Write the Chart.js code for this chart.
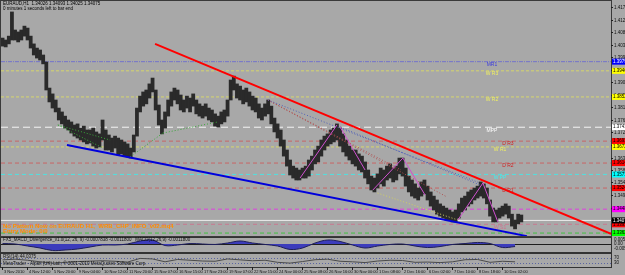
<!DOCTYPE html>
<html>
<head>
<meta charset="utf-8">
<script src="https://cdn.jsdelivr.net/npm/chart.js@4.4.0/dist/chart.umd.min.js"></script>
<style>
html, body { margin: 0; padding: 0; background: #a8a8a8; }
#wrap { position: relative; width: 625px; height: 275px; overflow: hidden; background: #a8a8a8; }
canvas { position: absolute; left: 0; }
</style>
</head>
<body>
<div id="wrap">
  <canvas id="mainChart" width="625" height="237" style="top:0px"></canvas>
  <canvas id="macdChart" width="625" height="16" style="top:237px"></canvas>
  <canvas id="rsiChart" width="625" height="22" style="top:253px"></canvas>
</div>
<script>
// EURAUD H1, one slot = 4 hourly bars
var highs = [1.4064,1.4057,1.4071,1.4158,1.4093,1.4086,1.4093,1.4107,1.4100,1.4071,
  1.4043,1.4028,1.4021,1.4003,1.3978,1.3884,1.3863,1.3841,1.3812,1.3798,
  1.3783,1.3769,1.3762,1.3751,1.3755,1.3740,1.3747,1.3733,1.3733,1.3740,
  1.3726,1.3719,1.3769,1.3733,1.3715,1.3704,1.3711,1.3704,1.3697,1.3690,
  1.3683,1.3668,1.3715,1.3812,1.3855,1.3870,1.3877,1.3899,1.3920,1.3877,
  1.3823,1.3769,1.3798,1.3841,1.3870,1.3884,1.3877,1.3859,1.3841,1.3855,
  1.3848,1.3863,1.3841,1.3827,1.3819,1.3827,1.3812,1.3805,1.3791,1.3783,
  1.3798,1.3805,1.3841,1.3913,1.3927,1.3899,1.3891,1.3877,1.3884,1.3870,
  1.3855,1.3848,1.3827,1.3812,1.3827,1.3841,1.3819,1.3776,1.3755,1.3733,
  1.3697,1.3661,1.3625,1.3603,1.3596,1.3589,1.3596,1.3603,1.3625,1.3639,
  1.3661,1.3675,1.3697,1.3711,1.3719,1.3733,1.3740,1.3755,1.3740,1.3719,
  1.3697,1.3675,1.3661,1.3661,1.3647,1.3639,1.3618,1.3589,1.3567,1.3560,
  1.3575,1.3596,1.3589,1.3603,1.3611,1.3596,1.3603,1.3632,1.3632,1.3596,
  1.3567,1.3553,1.3539,1.3524,1.3546,1.3553,1.3531,1.3510,1.3495,1.3481,
  1.3467,1.3459,1.3452,1.3445,1.3438,1.3445,1.3467,1.3488,1.3495,1.3510,
  1.3517,1.3524,1.3531,1.3546,1.3539,1.3524,1.3481,1.3452,1.3445,1.3452,
  1.3459,1.3467,1.3459,1.3430,1.3409,1.3430,1.3427];
var lows = [1.4035,1.4032,1.4043,1.4057,1.4057,1.4050,1.4057,1.4071,1.4057,1.4028,
  1.4003,1.3992,1.3985,1.3971,1.3877,1.3834,1.3812,1.3798,1.3769,1.3755,
  1.3740,1.3733,1.3722,1.3711,1.3704,1.3697,1.3690,1.3683,1.3686,1.3675,
  1.3668,1.3672,1.3697,1.3661,1.3661,1.3654,1.3668,1.3643,1.3647,1.3639,
  1.3636,1.3632,1.3654,1.3711,1.3798,1.3819,1.3827,1.3848,1.3870,1.3805,
  1.3751,1.3719,1.3740,1.3783,1.3819,1.3841,1.3827,1.3805,1.3798,1.3812,
  1.3798,1.3819,1.3791,1.3783,1.3776,1.3783,1.3769,1.3762,1.3747,1.3744,
  1.3755,1.3762,1.3783,1.3841,1.3877,1.3848,1.3841,1.3827,1.3834,1.3819,
  1.3805,1.3798,1.3776,1.3769,1.3783,1.3791,1.3755,1.3726,1.3704,1.3675,
  1.3639,1.3603,1.3571,1.3560,1.3553,1.3553,1.3560,1.3560,1.3567,1.3589,
  1.3611,1.3618,1.3639,1.3661,1.3675,1.3683,1.3690,1.3697,1.3675,1.3654,
  1.3639,1.3625,1.3611,1.3603,1.3589,1.3582,1.3560,1.3539,1.3517,1.3510,
  1.3524,1.3539,1.3531,1.3553,1.3560,1.3546,1.3553,1.3575,1.3567,1.3531,
  1.3510,1.3495,1.3488,1.3481,1.3495,1.3503,1.3481,1.3459,1.3445,1.3430,
  1.3423,1.3416,1.3409,1.3409,1.3402,1.3402,1.3416,1.3438,1.3445,1.3459,
  1.3467,1.3481,1.3488,1.3495,1.3488,1.3467,1.3423,1.3402,1.3402,1.3416,
  1.3423,1.3430,1.3416,1.3387,1.3377,1.3395,1.3402];

var timeLabels = ['3 Nov 2010','4 Nov 12:00','5 Nov 20:00','9 Nov 04:00','10 Nov 12:00',
  '11 Nov 20:00','15 Nov 07:00','16 Nov 15:00','17 Nov 23:00','19 Nov 07:00','22 Nov 15:00',
  '24 Nov 00:00','25 Nov 08:00','26 Nov 16:00','30 Nov 00:00','1 Dec 08:00','2 Dec 16:00',
  '6 Dec 02:00','7 Dec 10:00','8 Dec 18:00','10 Dec 02:00'];

var priceTicks = [1.41740,1.41290,1.40840,1.40390,1.39940,1.39490,1.39040,1.38590,1.38140,
  1.37690,1.37240,1.36790,1.36340,1.35890,1.35440,1.34990,1.34540,1.34090];

var pivotNames  = ['MR1','W R3','W R2','MPP','D R3','W R1','D R2','W PP','D R1','D PP','W S1','D S1'];
var pivotLevels = [1.39790,1.39460,1.38520,1.37430,1.36930,1.36720,1.36140,1.35730,1.35240,1.34480,1.33935,1.33620];
var bidPrice = 1.34075;

// trend lines: [slot, price, slot, price]
var redTrend  = [48.8, 1.4043, 194.7, 1.3359];
var blueTrend = [20.6, 1.3679, 167.8, 1.3351];
var greenPattern = [[17.7,1.3751,32.1,1.3668],[17.7,1.3751,34.4,1.3697],[40.8,1.3636,51.3,1.3722],[51.3,1.3722,68.9,1.3762]];
var magentaPattern = [[95.2,1.3560,107.0,1.3751],[108.0,1.3744,116.0,1.3589],[118.5,1.3517,128.1,1.3632],
  [128.1,1.3632,135.2,1.3499],[145.7,1.3409,153.7,1.3542],[153.7,1.3542,158.5,1.3402]];
var bluePattern = [[84.9,1.3841,152.8,1.3542],[108.0,1.3744,152.8,1.3535]];
var redPattern = [[84.9,1.3841,127.5,1.3589],[84.9,1.3841,142.2,1.3492]];
var yellowPattern = [[120.0,1.3506,145.7,1.3409]];

// MACD and RSI, one value every 4 slots
var macdValues = [0.0005,0,-0.0022,-0.0044,-0.0072,-0.0066,-0.0055,-0.0033,-0.0011,-0.0011,
  0,0.0033,0.0044,-0.0017,-0.0011,0.0005,0,-0.0005,0.0011,0.0033,
  0.0011,-0.0005,-0.0022,-0.006,-0.0044,0.0011,0.0044,0.0028,-0.0011,-0.0044,
  -0.0022,-0.0005,0,-0.0022,-0.0039,-0.0028,-0.0005,0.0005,0.0017,0.0005,-0.0039,-0.0028];
var macdTicks = [0.00501, 0, -0.00518];
var rsiValues = [55,60,52,40,30,35,42,45,48,44,38,66,62,40,58,52,46,44,62,55,48,52,36,30,
  42,56,60,44,40,34,46,52,50,36,38,34,40,56,58,36,44,40];
var rsiLevels = [70, 30];

var slotMin = -0.5, slotMax = 194.7, sampleStep = 4;

var pivotStyle = {
  'MR1':  {line:'#7474cc', dash:[4,1,1,1], box:'#0000ff', boxText:'#ffffff', text:'#3c3cdc', at:156.6},
  'W R3': {line:'#d6d66c', dash:[3,2], box:'#ffff00', boxText:'#000000', text:'#f0f060', at:156.6},
  'W R2': {line:'#d6d66c', dash:[3,2], box:'#ffff00', boxText:'#000000', text:'#f0f060', at:156.6},
  'MPP':  {line:'#f4f4f4', dash:[7,4], box:'#ffffff', boxText:'#000000', text:'#ffffff', at:156.6},
  'D R3': {line:'#c86464', dash:[4,3], box:'#ff0000', boxText:'#000000', text:'#d02020', at:161.7},
  'W R1': {line:'#d6d66c', dash:[3,2], box:'#ffff00', boxText:'#000000', text:'#f0f060', at:159.2},
  'D R2': {line:'#c86464', dash:[4,3], box:'#ff0000', boxText:'#000000', text:'#d02020', at:161.7},
  'W PP': {line:'#50e0e0', dash:[4,3], box:'#00ffff', boxText:'#000000', text:'#40f0f0', at:159.2},
  'D R1': {line:'#c86464', dash:[4,3], box:'#ff0000', boxText:'#000000', text:'#d02020', at:161.7},
  'D PP': {line:'#e040e0', dash:[4,3], box:'#ff00ff', boxText:'#000000', text:null, at:0},
  'W S1': {line:'#c87890', dash:[4,3], box:'#ff0000', boxText:'#000000', text:'#d07090', at:159.2},
  'D S1': {line:'#40c040', dash:[4,3], box:'#00ff00', boxText:'#000000', text:null, at:0}
};

function segDataset(s, color, width, dash, order){
  return {
    type: 'line',
    data: [{x: s[0], y: s[1]}, {x: s[2], y: s[3]}],
    borderColor: color, borderWidth: width, borderDash: dash,
    pointRadius: 0, fill: false, order: order
  };
}

function sampled(vals){
  return vals.map(function(v, i){ return {x: i * sampleStep, y: v}; });
}

function slotAxis(){
  return {type: 'linear', min: slotMin, max: slotMax, offset: false, display: false};
}

// ---------- main price window ----------
var mainSets = [];
mainSets.push(segDataset(redTrend, '#ff0000', 2, [], 0));
mainSets.push(segDataset(blueTrend, '#0000dc', 2, [], 0));
greenPattern.forEach(function(s){ mainSets.push(segDataset(s, '#3aa83a', 1, [1,2], 0)); });
magentaPattern.forEach(function(s){ mainSets.push(segDataset(s, '#d050d0', 1, [], 0)); });
bluePattern.forEach(function(s){ mainSets.push(segDataset(s, '#5060b8', 1, [1,2], 0)); });
redPattern.forEach(function(s){ mainSets.push(segDataset(s, '#b05050', 1, [1,2], 0)); });
yellowPattern.forEach(function(s){ mainSets.push(segDataset(s, '#d0d060', 1, [1,2], 0)); });

mainSets.push({
  type: 'bar',
  data: highs.map(function(h, i){ return {x: i, y: [lows[i], h]}; }),
  backgroundColor: '#2a2a2a',
  barPercentage: 1, categoryPercentage: 1,
  order: 1
});

pivotNames.forEach(function(name, i){
  var st = pivotStyle[name];
  mainSets.push(segDataset([slotMin, pivotLevels[i], slotMax, pivotLevels[i]], st.line, 1, st.dash, 2));
});
mainSets.push(segDataset([slotMin, bidPrice, slotMax, bidPrice], '#ececec', 1, [], 2));

var mainText = {
  id: 'mainText',
  afterDraw: function(chart){
    var c = chart.ctx, a = chart.chartArea, y = chart.scales.y, x = chart.scales.x;
    c.save();
    // frame
    c.strokeStyle = '#3a3a3a'; c.lineWidth = 1;
    c.strokeRect(a.left - 0.5, 0.5, a.right - a.left + 1, a.bottom);
    c.textBaseline = 'middle';
    // pivot names
    c.font = '5px "Liberation Sans", Arial';
    c.textAlign = 'center';
    pivotNames.forEach(function(name, i){
      var st = pivotStyle[name];
      if (!st.text) return;
      c.fillStyle = st.text;
      c.fillText(name, x.getPixelForValue(st.at), y.getPixelForValue(pivotLevels[i]) + 3);
    });
    // price scale
    c.textAlign = 'left';
    c.font = '4.5px "Liberation Sans", Arial';
    priceTicks.forEach(function(v){
      var py = Math.round(y.getPixelForValue(v)) + 0.5;
      c.strokeStyle = '#202020';
      c.beginPath(); c.moveTo(a.right, py); c.lineTo(a.right + 2, py); c.stroke();
      c.fillStyle = '#101010';
      c.fillText(v.toFixed(5), a.right + 3, py);
    });
    // level boxes
    function box(v, bg, fg){
      var py = y.getPixelForValue(v);
      c.fillStyle = bg;
      c.fillRect(a.right + 1, py - 3, 14, 6);
      c.fillStyle = fg;
      c.fillText(v.toFixed(5), a.right + 2, py);
    }
    pivotNames.forEach(function(name, i){
      box(pivotLevels[i], pivotStyle[name].box, pivotStyle[name].boxText);
    });
    box(bidPrice, '#000000', '#ffffff');
    // header
    c.fillStyle = '#000000';
    c.font = '4.5px "Liberation Sans", Arial';
    c.fillText('EURAUD,H1  1.34026 1.34093 1.34025 1.34075', 3, 4);
    c.fillText('0 minutes 1 seconds left to bar end', 3, 8.5);
    // indicator message
    c.fillStyle = '#ff8c00';
    c.font = 'bold 6px "Liberation Sans", Arial';
    c.fillText('No Pattern Now on EURAUD H1,  WRB_CHP_INFO_v02.mq4', 3, 226.5);
    c.fillText('Entry Mode: 0/0', 3, 231.5);
    c.restore();
  }
};

new Chart(document.getElementById('mainChart'), {
  type: 'bar',
  data: {datasets: mainSets},
  options: {
    responsive: false, animation: false, devicePixelRatio: 1, events: [],
    layout: {padding: {left: 1, right: 14, top: 0, bottom: 1}},
    plugins: {legend: {display: false}, tooltip: {enabled: false}},
    scales: {x: slotAxis(), y: {min: 1.33514, max: 1.4201, display: false}}
  },
  plugins: [mainText]
});

// ---------- MACD window ----------
var macdText = {
  id: 'macdText',
  beforeDatasetsDraw: function(chart){
    var c = chart.ctx, a = chart.chartArea, y = chart.scales.y;
    var zy = Math.round(y.getPixelForValue(0)) + 0.5;
    c.save();
    c.strokeStyle = '#1e1e1e'; c.lineWidth = 1;
    c.beginPath(); c.moveTo(a.left, zy); c.lineTo(a.right, zy); c.stroke();
    c.restore();
  },
  afterDraw: function(chart){
    var c = chart.ctx, a = chart.chartArea, y = chart.scales.y;
    c.save();
    c.strokeStyle = '#333333'; c.lineWidth = 1;
    c.strokeRect(a.left - 0.5, 0.5, a.right - a.left + 1, 15);
    c.font = '4.5px "Liberation Sans", Arial';
    c.textBaseline = 'middle';
    c.fillStyle = '#101010';
    macdTicks.forEach(function(v){
      c.fillText(v === 0 ? '0.00' : v.toFixed(5), a.right + 3, y.getPixelForValue(v));
    });
    c.fillText('FX5_MACD_Divergence_v1.0(12, 26, 9) -0.0007838 -0.0011800   MACD(12,26,9) -0.0011800', 3, 3);
    c.restore();
  }
};

new Chart(document.getElementById('macdChart'), {
  type: 'line',
  data: {datasets: [{
    data: sampled(macdValues),
    borderColor: '#1e1e5a', borderWidth: 1,
    backgroundColor: '#3c3cbc', fill: 'origin',
    pointRadius: 0, tension: 0.35
  }]},
  options: {
    responsive: false, animation: false, devicePixelRatio: 1, events: [],
    layout: {padding: {left: 1, right: 14, top: 1, bottom: 1}},
    plugins: {legend: {display: false}, tooltip: {enabled: false}},
    scales: {x: slotAxis(), y: {min: -0.0088, max: 0.0066, display: false}}
  },
  plugins: [macdText]
});

// ---------- RSI window + time axis ----------
var rsiText = {
  id: 'rsiText',
  beforeDatasetsDraw: function(chart){
    var c = chart.ctx, a = chart.chartArea, y = chart.scales.y;
    c.save();
    c.strokeStyle = '#5a64a0'; c.lineWidth = 1; c.setLineDash([1, 2]);
    rsiLevels.forEach(function(v){
      var py = Math.round(y.getPixelForValue(v)) + 0.5;
      c.beginPath(); c.moveTo(a.left, py); c.lineTo(a.right, py); c.stroke();
    });
    c.restore();
  },
  afterDraw: function(chart){
    var c = chart.ctx, a = chart.chartArea, y = chart.scales.y, x = chart.scales.x;
    c.save();
    c.strokeStyle = '#333333'; c.lineWidth = 1;
    c.strokeRect(a.left - 0.5, 0.5, a.right - a.left + 1, a.bottom);
    c.font = '4.5px "Liberation Sans", Arial';
    c.textBaseline = 'middle';
    c.fillStyle = '#101010';
    rsiLevels.forEach(function(v){
      c.fillText(String(v), a.right + 3, y.getPixelForValue(v));
    });
    c.fillText('RSI(14) 44.0375', 3, 4);
    c.fillText('MetaTrader - Alpari (UK) Ltd., \u00a9 2001-2010 MetaQuotes Software Corp.', 3, 10.5);
    // time scale: one label every 8 slots (32 hourly bars)
    c.font = '4px "Liberation Sans", Arial';
    timeLabels.forEach(function(t, k){
      var px = Math.round(x.getPixelForValue(k * 8 - 0.3)) + 0.5;
      c.strokeStyle = '#202020';
      c.beginPath(); c.moveTo(px, a.bottom); c.lineTo(px, a.bottom + 3); c.stroke();
      c.fillText(t, px + 1.5, a.bottom + 4.5);
    });
    c.restore();
  }
};

new Chart(document.getElementById('rsiChart'), {
  type: 'line',
  data: {datasets: [{
    data: sampled(rsiValues),
    borderColor: '#4a4a4a', borderWidth: 1,
    pointRadius: 0, tension: 0, fill: false
  }]},
  options: {
    responsive: false, animation: false, devicePixelRatio: 1, events: [],
    layout: {padding: {left: 1, right: 14, top: 1, bottom: 8}},
    plugins: {legend: {display: false}, tooltip: {enabled: false}},
    scales: {x: slotAxis(), y: {min: 0, max: 100, display: false}}
  },
  plugins: [rsiText]
});
</script>
</body>
</html>
